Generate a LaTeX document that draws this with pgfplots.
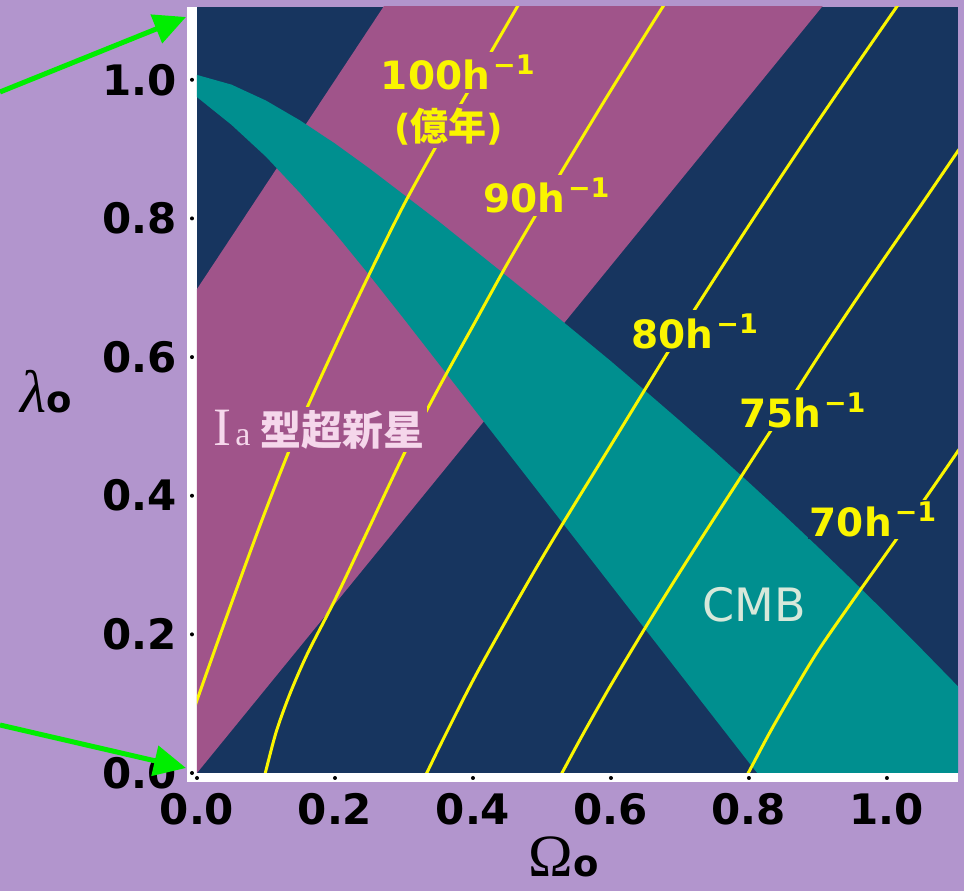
\documentclass[border=0pt]{standalone}
\usepackage{fontspec}
\setmainfont{DejaVu Sans}
\newfontfamily\cjk{Noto Sans CJK JP}
\newfontfamily\serif{Liberation Serif}
\usepackage{pgfplots}
\pgfplotsset{compat=1.18}
\usetikzlibrary{arrows.meta}
\definecolor{lav}{RGB}{178,149,205}
\definecolor{navy}{RGB}{23,53,95}
\definecolor{mag}{RGB}{160,84,138}
\definecolor{tealc}{RGB}{0,143,143}
\definecolor{yel}{RGB}{250,245,0}
\definecolor{pinkt}{RGB}{245,215,235}
\definecolor{cmbt}{RGB}{215,232,218}
\definecolor{grn}{RGB}{0,238,0}
\newcommand{\hlab}[1]{{\fontsize{39}{39}\selectfont\bfseries #1h\kern3pt\raisebox{15pt}{\fontsize{27}{27}\selectfont −1}}}
\begin{document}
\begin{tikzpicture}[x=1pt,y=1pt]
\fill[lav] (-197,-118) rectangle (767,773);
\fill[white] (-9.5,-9) rectangle (0,766);
\fill[white] (-9.5,-9) rectangle (761,0);
\begin{axis}[at={(0,0)}, anchor=south west, scale only axis,
  width=761pt, height=766pt,
  xmin=0, xmax=1.103, ymin=0, ymax=1.105,
  axis background/.style={fill=navy},
  axis line style={draw=none},
  tick pos=left, tick align=outside, major tick length=10pt,
  tick style={black, line width=4pt, line cap=round, dash pattern=on 0pt off 10pt, dash phase=5pt},
  minor tick num=0,
  xtick={0,0.2,0.4,0.6,0.8,1.0}, xticklabels={0.0,0.2,0.4,0.6,0.8,1.0},
  ytick={0,0.2,0.4,0.6,0.8,1.0}, yticklabels={0.0,0.2,0.4,0.6,0.8,1.0},
  ticklabel style={font=\fontsize{42}{42}\selectfont\bfseries, inner sep=0pt, text=black},
  xticklabel shift=10pt, yticklabel shift=10pt,
  xlabel={\raisebox{0pt}[\height][0pt]{{\serif\fontsize{60}{60}\selectfont Ω}{\fontsize{37}{37}\selectfont\bfseries o}}},
  ylabel={{\serif\itshape\fontsize{60}{60}\selectfont λ}{\fontsize{37}{37}\selectfont\bfseries o}},
  xlabel style={at={(axis description cs:0.482,-0.1345)}, anchor=base, inner sep=0pt},
  ylabel style={at={(axis description cs:-0.198,0.470)}, anchor=base, rotate=-90, inner sep=0pt},
  clip=true]
% SN Ia band
\addplot[fill=mag, draw=none] coordinates {(-0.02,-0.0244) (0.93,1.1346) (0.29,1.135) (-0.02,0.668)} -- cycle;
% CMB band
\addplot[fill=tealc, draw=none] coordinates {
 (-0.01,1.009) (0,1.007) (0.05,0.993) (0.1,0.970) (0.15,0.941) (0.2,0.908) (0.25,0.872)
 (0.3,0.834) (0.35,0.796) (0.4,0.756) (0.45,0.716) (0.5,0.676) (0.55,0.635) (0.6,0.594)
 (0.65,0.551) (0.7,0.508) (0.75,0.464) (0.8,0.419) (0.85,0.373) (0.9,0.326) (0.95,0.278)
 (1.0,0.229) (1.05,0.179) (1.1,0.128) (1.12,0.107)
 (1.12,-0.02) (0.828,-0.02) (0.812,0) (0.8,0.015) (0.75,0.079) (0.7,0.143) (0.65,0.207)
 (0.6,0.271) (0.55,0.335) (0.5,0.399) (0.45,0.463) (0.4,0.527) (0.35,0.591) (0.3,0.655)
 (0.25,0.718) (0.2,0.779) (0.15,0.836) (0.1,0.889) (0.05,0.935) (0,0.975) (-0.01,0.983)} -- cycle;
% age contours
\addplot[yel, line width=3pt, smooth] coordinates {(-0.01,0.075) (0,0.105) (0.05,0.245) (0.1,0.38) (0.15,0.505) (0.2,0.615) (0.25,0.72) (0.3,0.82) (0.35,0.91) (0.4,0.995) (0.464,1.105) (0.49,1.15)};
\addplot[yel, line width=3pt, smooth] coordinates {(0.094,-0.02) (0.099,0) (0.115,0.06) (0.135,0.115) (0.16,0.172) (0.2,0.25) (0.25,0.355) (0.3,0.46) (0.35,0.555) (0.4,0.645) (0.45,0.735) (0.5,0.82) (0.55,0.903) (0.6,0.985) (0.675,1.105) (0.7,1.14)};
\addplot[yel, line width=3pt, smooth] coordinates {(0.323,-0.02) (0.333,0) (0.36,0.055) (0.41,0.152) (0.5,0.31) (0.6,0.473) (0.7,0.635) (0.8,0.79) (0.9,0.94) (1.014,1.105) (1.04,1.14)};
\addplot[yel, line width=3pt, smooth] coordinates {(0.518,-0.02) (0.529,0) (0.56,0.057) (0.6,0.127) (0.65,0.21) (0.7,0.29) (0.75,0.368) (0.8,0.445) (0.85,0.522) (0.9,0.6) (0.95,0.675) (1.0,0.748) (1.05,0.82) (1.1,0.893) (1.12,0.922)};
\addplot[yel, line width=3pt, smooth] coordinates {(0.788,-0.02) (0.799,0) (0.83,0.058) (0.86,0.11) (0.9,0.176) (0.95,0.248) (1.0,0.318) (1.05,0.388) (1.1,0.46) (1.12,0.49)};
% labels
\node[anchor=base west, fill=mag, inner sep=3pt, text=yel] at (axis cs:0.262,0.986) {\hlab{100}};
\node[anchor=base, fill=mag, inner sep=3pt, text=yel] at (axis cs:0.365,0.913) {{\fontsize{36}{36}\selectfont\bfseries(}{\cjk\bfseries\fontsize{38}{38}\selectfont 億年}{\fontsize{36}{36}\selectfont\bfseries)}};
\node[anchor=base west, fill=mag, inner sep=3pt, text=yel] at (axis cs:0.41,0.808) {\hlab{90}};
\node[anchor=base west, fill=navy, inner sep=3pt, text=yel] at (axis cs:0.625,0.613) {\hlab{80}};
\node[anchor=base west, fill=navy, inner sep=3pt, text=yel] at (axis cs:0.781,0.498) {\hlab{75}};
\node[anchor=base west, fill=navy, inner sep=2pt, text=yel] at (axis cs:0.885,0.341) {\hlab{70}};
\node[anchor=base west, fill=mag, inner sep=3pt, text=pinkt] at (axis cs:0.019,0.473) {{\serif\fontsize{54}{54}\selectfont I}\kern4pt{\serif\fontsize{34}{34}\selectfont a}\kern10pt{\cjk\bfseries\fontsize{41}{41}\selectfont 型超新星}};
\node[anchor=base west, inner sep=0pt, text=cmbt] at (axis cs:0.732,0.218) {\fontsize{46}{46}\selectfont CMB};
\end{axis}
\draw[grn, line width=5pt, -{Triangle[length=32pt,width=30pt]}] (-197,681) -- (-11,756);
\draw[grn, line width=5pt, -{Triangle[length=32pt,width=30pt]}] (-197,48) -- (-11,5);
\pgfresetboundingbox
\useasboundingbox (-197,-118) rectangle (767,773);
\end{tikzpicture}
\end{document}
